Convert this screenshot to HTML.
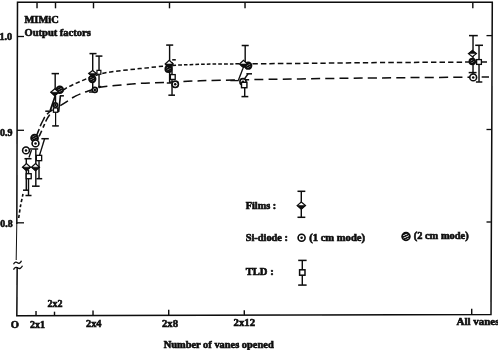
<!DOCTYPE html>
<html><head><meta charset="utf-8"><title>MIMiC Output factors</title>
<style>
html,body{margin:0;padding:0;background:#fff;}
body{width:498px;height:350px;overflow:hidden;}
svg{display:block;}
svg text{font-family:"Liberation Serif","DejaVu Serif",serif;font-weight:bold;fill:#0a0a0a;stroke:#0a0a0a;stroke-width:0.6px;}
</style></head><body>
<svg width="498" height="350" viewBox="0 0 498 350">
<defs>
<pattern id="hatch" width="2.1" height="2.1" patternUnits="userSpaceOnUse" patternTransform="rotate(-28)">
<rect width="2.1" height="2.1" fill="#fff"/><rect width="2.1" height="1.78" fill="#0a0a0a"/>
</pattern>
<pattern id="hatch2" width="2.3" height="2.3" patternUnits="userSpaceOnUse" patternTransform="rotate(-25) translate(0,0.4)">
<rect width="2.3" height="2.3" fill="#fff"/><rect width="2.3" height="1.45" fill="#0a0a0a"/>
</pattern>
<filter id="soft" x="-2%" y="-2%" width="104%" height="104%"><feGaussianBlur stdDeviation="0.35"/></filter>
</defs>
<rect width="498" height="350" fill="#fff"/>
<g filter="url(#soft)">
<path d="M16.8,224 L17.5,2.2 L492.3,2.2 L491,314.5 L16.8,315.7 L17.2,267" fill="none" stroke="#0a0a0a" stroke-width="1.5" stroke-linejoin="miter"/>
<path d="M16.8,223 L16.2,260" fill="none" stroke="#0a0a0a" stroke-width="1.0"/>
<path d="M13.5,264.3 C15,261.5 16.5,262 17.5,262.8 C18.8,263.8 20.3,263.3 21.5,260.8" fill="none" stroke="#0a0a0a" stroke-width="1.3"/>
<path d="M13.5,269.6 C15,266.8 16.8,267.2 18,268 C19.5,269 21,268.5 22.5,265.8" fill="none" stroke="#0a0a0a" stroke-width="1.3"/>
<line x1="17" y1="36.5" x2="24" y2="36.5" stroke="#0a0a0a" stroke-width="1.3" />
<line x1="17" y1="130.3" x2="24" y2="130.3" stroke="#0a0a0a" stroke-width="1.3" />
<line x1="17" y1="222.8" x2="24" y2="222.8" stroke="#0a0a0a" stroke-width="1.3" />
<line x1="486.5" y1="35.6" x2="492" y2="35.6" stroke="#0a0a0a" stroke-width="1.3" />
<line x1="486.5" y1="129.5" x2="492" y2="129.5" stroke="#0a0a0a" stroke-width="1.3" />
<line x1="486.5" y1="222.0" x2="492" y2="222.0" stroke="#0a0a0a" stroke-width="1.3" />
<line x1="36" y1="311.0" x2="36" y2="315.6" stroke="#0a0a0a" stroke-width="1.4" />
<line x1="54.5" y1="311.7" x2="54.5" y2="315.5" stroke="#0a0a0a" stroke-width="1.4" />
<line x1="93" y1="310.4" x2="93" y2="315.4" stroke="#0a0a0a" stroke-width="1.4" />
<line x1="168.7" y1="309.8" x2="168.7" y2="315.2" stroke="#0a0a0a" stroke-width="1.4" />
<line x1="244.3" y1="310.3" x2="244.3" y2="315.0" stroke="#0a0a0a" stroke-width="1.4" />
<line x1="471.7" y1="308.8" x2="471.7" y2="314.6" stroke="#0a0a0a" stroke-width="1.4" />
<line x1="37" y1="2" x2="37" y2="8.3" stroke="#0a0a0a" stroke-width="1.4" />
<line x1="55.5" y1="2" x2="55.5" y2="8.3" stroke="#0a0a0a" stroke-width="1.4" />
<line x1="93.5" y1="2" x2="93.5" y2="8.3" stroke="#0a0a0a" stroke-width="1.4" />
<line x1="169.5" y1="2" x2="169.5" y2="8.3" stroke="#0a0a0a" stroke-width="1.4" />
<line x1="245" y1="2" x2="245" y2="8.3" stroke="#0a0a0a" stroke-width="1.4" />
<line x1="472.8" y1="2" x2="472.8" y2="8.3" stroke="#0a0a0a" stroke-width="1.4" />
<text x="24.5" y="23" font-size="10.4" text-anchor="start" textLength="34.2" lengthAdjust="spacingAndGlyphs">MIMiC</text>
<text x="24.5" y="36.4" font-size="10.4" text-anchor="start" textLength="66.3" lengthAdjust="spacingAndGlyphs">Output factors</text>
<text x="-0.6" y="40.4" font-size="10.4" text-anchor="start" textLength="12.8" lengthAdjust="spacingAndGlyphs">1.0</text>
<text x="0" y="135.9" font-size="10.4" text-anchor="start" textLength="12.5" lengthAdjust="spacingAndGlyphs">0.9</text>
<text x="0.3" y="227" font-size="10.4" text-anchor="start" textLength="12.3" lengthAdjust="spacingAndGlyphs">0.8</text>
<text x="10.8" y="327.6" font-size="10.4" text-anchor="start" textLength="8.2" lengthAdjust="spacingAndGlyphs">O</text>
<text x="29.9" y="327.6" font-size="10.4" text-anchor="start" textLength="15" lengthAdjust="spacingAndGlyphs">2x1</text>
<text x="47.5" y="307" font-size="10.4" text-anchor="start" textLength="15" lengthAdjust="spacingAndGlyphs">2x2</text>
<text x="86" y="327" font-size="10.4" text-anchor="start" textLength="15.5" lengthAdjust="spacingAndGlyphs">2x4</text>
<text x="162" y="326.7" font-size="10.4" text-anchor="start" textLength="16" lengthAdjust="spacingAndGlyphs">2x8</text>
<text x="233.5" y="325.8" font-size="10.4" text-anchor="start" textLength="21.5" lengthAdjust="spacingAndGlyphs">2x12</text>
<text x="456.5" y="325" font-size="10.4" text-anchor="start" textLength="43" lengthAdjust="spacingAndGlyphs">All vanes</text>
<text x="163.7" y="347.6" font-size="10.4" text-anchor="start" textLength="110" lengthAdjust="spacingAndGlyphs">Number of vanes opened</text>
<text x="245.7" y="208.8" font-size="10.4" text-anchor="start" textLength="30.5" lengthAdjust="spacingAndGlyphs">Films :</text>
<text x="245.7" y="240.8" font-size="10.4" text-anchor="start" textLength="42.3" lengthAdjust="spacingAndGlyphs">Si-diode :</text>
<text x="309.2" y="240.8" font-size="10.4" text-anchor="start" textLength="55.8" lengthAdjust="spacingAndGlyphs">(1 cm mode)</text>
<text x="413.7" y="239.3" font-size="10.4" text-anchor="start" textLength="55" lengthAdjust="spacingAndGlyphs">(2 cm mode)</text>
<text x="245.7" y="275.3" font-size="10.4" text-anchor="start" textLength="28" lengthAdjust="spacingAndGlyphs">TLD :</text>
<path d="M18.7,218 C19.00,216.00 19.78,210.00 20.5,206 C21.22,202.00 22.58,196.00 23,194" fill="none" stroke="#0a0a0a" stroke-width="1.6" stroke-dasharray="3.2 2.2"/>
<path d="M35,141.5 C35.50,140.92 37.13,139.25 38,138 C38.87,136.75 39.43,135.57 40.2,134 C40.97,132.43 41.93,130.10 42.6,128.6 C43.27,127.10 43.57,126.43 44.2,125 C44.83,123.57 45.67,121.45 46.4,120 C47.13,118.55 47.90,117.43 48.6,116.3 C49.30,115.17 50.27,113.72 50.6,113.2" fill="none" stroke="#0a0a0a" stroke-width="1.6" stroke-dasharray="6.2 3.3 4.2 2.6 8 3" stroke-dashoffset="-6.5"/>
<path d="M60.5,91.8 C61.03,91.45 62.68,90.37 63.7,89.7 C64.72,89.03 65.63,88.37 66.6,87.8 C67.57,87.23 68.45,86.82 69.5,86.3 C70.55,85.78 71.85,85.18 72.9,84.7 C73.95,84.22 74.58,83.93 75.8,83.4 C77.02,82.87 78.40,82.28 80.2,81.5 C82.00,80.72 84.58,79.48 86.6,78.7 C88.62,77.92 90.07,77.55 92.3,76.8 C94.53,76.05 96.72,75.05 100,74.2 C103.28,73.35 105.33,72.63 112,71.7 C118.67,70.77 130.67,69.62 140,68.6 C149.33,67.58 163.33,66.10 168,65.6" fill="none" stroke="#0a0a0a" stroke-width="1.5" stroke-dasharray="4.4 2.7" stroke-dashoffset="-3.2"/>
<path d="M168,65.6 C173.33,65.38 187.50,64.60 200,64.3 C212.50,64.00 235.83,63.88 243,63.8" fill="none" stroke="#0a0a0a" stroke-width="1.5" stroke-dasharray="3.6 2.1" stroke-dashoffset="1"/>
<path d="M243,63.8 C252.50,63.73 277.17,63.60 300,63.4 C322.83,63.20 348.83,62.83 380,62.6 C411.17,62.37 469.17,62.10 487,62" fill="none" stroke="#0a0a0a" stroke-width="1.5" stroke-dasharray="5.4 3.1" stroke-dashoffset="-1"/>
<path d="M36.7,135.2 C37.18,134.00 38.90,129.77 39.6,128 C40.30,126.23 40.30,125.93 40.9,124.6 C41.50,123.27 42.48,121.37 43.2,120 C43.92,118.63 44.07,117.82 45.2,116.4 C46.33,114.98 48.28,112.90 50,111.5 C51.72,110.10 54.58,108.58 55.5,108" fill="none" stroke="#0a0a0a" stroke-width="1.5" stroke-dasharray="6.5 3 10.6 3.5 7 3"/>
<path d="M55.5,108 C56.30,107.62 58.22,106.88 60.3,105.7 C62.38,104.52 65.90,102.27 68,100.9 C70.10,99.53 70.72,98.72 72.9,97.5 C75.08,96.28 79.08,94.50 81.1,93.6 C83.12,92.70 83.38,92.67 85,92.1 C86.62,91.53 88.30,91.02 90.8,90.2 C93.30,89.38 95.97,87.98 100,87.2 C104.03,86.42 108.33,86.13 115,85.5 C121.67,84.87 131.17,83.93 140,83.4 C148.83,82.87 158.00,82.73 168,82.3 C178.00,81.87 187.50,81.22 200,80.8 C212.50,80.38 226.33,80.12 243,79.8 C259.67,79.48 277.17,79.22 300,78.9 C322.83,78.58 348.50,78.22 380,77.9 C411.50,77.58 470.83,77.15 489,77" fill="none" stroke="#0a0a0a" stroke-width="1.5" stroke-dasharray="9 5.2" stroke-dashoffset="-5.3"/>
<line x1="26.3" y1="158.7" x2="26.3" y2="190.2" stroke="#0a0a0a" stroke-width="1.4" />
<line x1="24.5" y1="158.7" x2="31.5" y2="158.7" stroke="#0a0a0a" stroke-width="1.5" />
<line x1="23.0" y1="190.2" x2="29.0" y2="190.2" stroke="#0a0a0a" stroke-width="1.5" />
<line x1="29" y1="157.5" x2="31.5" y2="150" stroke="#0a0a0a" stroke-width="1.3" />
<line x1="28.5" y1="170" x2="28.5" y2="195.5" stroke="#0a0a0a" stroke-width="1.4" />
<line x1="25.5" y1="195.5" x2="31.5" y2="195.5" stroke="#0a0a0a" stroke-width="1.5" />
<polygon points="22.5,167.2 26.5,163.6 30.5,167.2 26.5,170.79999999999998" fill="#fff" stroke="#0a0a0a" stroke-width="1.2"/>
<polygon points="22.5,167.2 30.5,167.2 26.5,170.79999999999998" fill="#0a0a0a" stroke="#0a0a0a" stroke-width="0.6"/>
<rect x="26.2" y="173.7" width="5.0" height="5.0" fill="#fff" stroke="#0a0a0a" stroke-width="1.3"/>
<circle cx="26" cy="150.4" r="3.4" fill="#fff" stroke="#0a0a0a" stroke-width="1.6"/>
<circle cx="26" cy="150.4" r="1.25" fill="#0a0a0a"/>
<line x1="35.8" y1="149" x2="35.8" y2="186.2" stroke="#0a0a0a" stroke-width="1.4" />
<line x1="29.8" y1="149" x2="38.2" y2="149" stroke="#0a0a0a" stroke-width="1.5" />
<line x1="31.999999999999996" y1="186.2" x2="39.599999999999994" y2="186.2" stroke="#0a0a0a" stroke-width="1.5" />
<line x1="39.3" y1="156" x2="44.6" y2="138.7" stroke="#0a0a0a" stroke-width="1.3" />
<line x1="41.4" y1="138.7" x2="48.800000000000004" y2="138.7" stroke="#0a0a0a" stroke-width="1.5" />
<line x1="39" y1="160" x2="39" y2="178.7" stroke="#0a0a0a" stroke-width="1.4" />
<line x1="36.4" y1="178.7" x2="42.199999999999996" y2="178.7" stroke="#0a0a0a" stroke-width="1.5" />
<polygon points="31.5,167.2 35.5,163.6 39.5,167.2 35.5,170.79999999999998" fill="#fff" stroke="#0a0a0a" stroke-width="1.2"/>
<polygon points="31.5,167.2 39.5,167.2 35.5,170.79999999999998" fill="#0a0a0a" stroke="#0a0a0a" stroke-width="0.6"/>
<rect x="36.35" y="155.35" width="5.3" height="5.3" fill="#fff" stroke="#0a0a0a" stroke-width="1.3"/>
<circle cx="34.6" cy="138" r="3.5" fill="url(#hatch)" stroke="#0a0a0a" stroke-width="1.7"/>
<circle cx="35.5" cy="143.4" r="3.4" fill="#fff" stroke="#0a0a0a" stroke-width="1.6"/>
<circle cx="35.5" cy="143.4" r="1.25" fill="#0a0a0a"/>
<line x1="55.2" y1="73.6" x2="55.2" y2="92" stroke="#0a0a0a" stroke-width="1.4" />
<line x1="51.599999999999994" y1="73.6" x2="59.0" y2="73.6" stroke="#0a0a0a" stroke-width="1.5" />
<line x1="55.6" y1="96" x2="55.6" y2="125.9" stroke="#0a0a0a" stroke-width="1.2" />
<line x1="52.2" y1="125.9" x2="58.8" y2="125.9" stroke="#0a0a0a" stroke-width="1.5" />
<line x1="55.2" y1="96" x2="50.2" y2="110.6" stroke="#0a0a0a" stroke-width="1.7" />
<line x1="45.3" y1="111.2" x2="50.7" y2="111.2" stroke="#0a0a0a" stroke-width="1.5" />
<line x1="58.6" y1="112" x2="60.4" y2="96" stroke="#0a0a0a" stroke-width="1.6" />
<line x1="59.699999999999996" y1="95.8" x2="63.9" y2="95.8" stroke="#0a0a0a" stroke-width="1.5" />
<circle cx="59.8" cy="89.8" r="3.4" fill="url(#hatch)" stroke="#0a0a0a" stroke-width="1.7"/>
<polygon points="50.8,92.3 54.8,88.7 58.8,92.3 54.8,95.89999999999999" fill="#fff" stroke="#0a0a0a" stroke-width="1.2"/>
<polygon points="50.8,92.3 58.8,92.3 54.8,95.89999999999999" fill="#0a0a0a" stroke="#0a0a0a" stroke-width="0.6"/>
<circle cx="55.3" cy="105.1" r="2.2" fill="#fff" stroke="#0a0a0a" stroke-width="1.6"/>
<circle cx="55.3" cy="105.1" r="1.25" fill="#0a0a0a"/>
<rect x="53.45" y="107.94999999999999" width="4.3" height="4.3" fill="#fff" stroke="#0a0a0a" stroke-width="1.3"/>
<line x1="92.7" y1="53.6" x2="92.7" y2="92" stroke="#0a0a0a" stroke-width="1.4" />
<line x1="89.5" y1="53.6" x2="96.5" y2="53.6" stroke="#0a0a0a" stroke-width="1.5" />
<line x1="89.1" y1="92" x2="92.9" y2="92" stroke="#0a0a0a" stroke-width="1.5" />
<line x1="99" y1="56.1" x2="99" y2="86.2" stroke="#0a0a0a" stroke-width="1.4" />
<line x1="95.6" y1="56.1" x2="102.4" y2="56.1" stroke="#0a0a0a" stroke-width="1.5" />
<line x1="98.10000000000001" y1="86.6" x2="101.3" y2="86.6" stroke="#0a0a0a" stroke-width="1.5" />
<circle cx="92.3" cy="79" r="3.3" fill="url(#hatch)" stroke="#0a0a0a" stroke-width="1.7"/>
<polygon points="88.69999999999999,73.4 92.6,70.4 96.5,73.4 92.6,76.4" fill="#fff" stroke="#0a0a0a" stroke-width="1.2"/>
<polygon points="88.69999999999999,73.4 96.5,73.4 92.6,76.4" fill="#0a0a0a" stroke="#0a0a0a" stroke-width="0.6"/>
<rect x="96.95" y="70.35" width="3.9" height="3.9" fill="#fff" stroke="#0a0a0a" stroke-width="1.2"/>
<circle cx="94.8" cy="89.9" r="2.5" fill="#fff" stroke="#0a0a0a" stroke-width="1.6"/>
<circle cx="94.8" cy="89.9" r="1.25" fill="#0a0a0a"/>
<line x1="169.6" y1="45.1" x2="169.6" y2="83" stroke="#0a0a0a" stroke-width="1.4" />
<line x1="166.2" y1="45.1" x2="173.2" y2="45.1" stroke="#0a0a0a" stroke-width="1.5" />
<line x1="166.8" y1="83" x2="171.2" y2="83" stroke="#0a0a0a" stroke-width="1.5" />
<line x1="172" y1="62" x2="172" y2="95.2" stroke="#0a0a0a" stroke-width="1.4" />
<line x1="168.39999999999998" y1="95.2" x2="175.0" y2="95.2" stroke="#0a0a0a" stroke-width="1.5" />
<line x1="172.2" y1="59.8" x2="175.8" y2="59.8" stroke="#0a0a0a" stroke-width="1.5" />
<circle cx="168.5" cy="69" r="3.2" fill="url(#hatch)" stroke="#0a0a0a" stroke-width="1.7"/>
<polygon points="165.2,64 169.2,60.4 173.2,64 169.2,67.6" fill="#fff" stroke="#0a0a0a" stroke-width="1.2"/>
<polygon points="165.2,64 173.2,64 169.2,67.6" fill="#0a0a0a" stroke="#0a0a0a" stroke-width="0.6"/>
<rect x="170.4" y="74.6" width="4.8" height="4.8" fill="#fff" stroke="#0a0a0a" stroke-width="1.3"/>
<circle cx="175.2" cy="84.3" r="3.2" fill="#fff" stroke="#0a0a0a" stroke-width="1.6"/>
<circle cx="175.2" cy="84.3" r="1.25" fill="#0a0a0a"/>
<line x1="245.2" y1="45.5" x2="245.2" y2="63" stroke="#0a0a0a" stroke-width="1.4" />
<line x1="241.7" y1="45.5" x2="248.7" y2="45.5" stroke="#0a0a0a" stroke-width="1.5" />
<line x1="243" y1="68.3" x2="238.4" y2="80.3" stroke="#0a0a0a" stroke-width="1.3" />
<line x1="230.3" y1="80.6" x2="238.7" y2="80.6" stroke="#0a0a0a" stroke-width="1.3" />
<line x1="248" y1="74" x2="244" y2="79.5" stroke="#0a0a0a" stroke-width="1.3" />
<line x1="246.39999999999998" y1="73.8" x2="252.0" y2="73.8" stroke="#0a0a0a" stroke-width="1.5" />
<line x1="244.7" y1="84" x2="244.7" y2="96.6" stroke="#0a0a0a" stroke-width="1.4" />
<line x1="241.5" y1="96.6" x2="248.3" y2="96.6" stroke="#0a0a0a" stroke-width="1.5" />
<circle cx="248.2" cy="65.7" r="3.3" fill="url(#hatch)" stroke="#0a0a0a" stroke-width="1.7"/>
<polygon points="239.5,64 243.5,60.4 247.5,64 243.5,67.6" fill="#fff" stroke="#0a0a0a" stroke-width="1.2"/>
<polygon points="239.5,64 247.5,64 243.5,67.6" fill="#0a0a0a" stroke="#0a0a0a" stroke-width="0.6"/>
<circle cx="243" cy="81.7" r="3.1" fill="#fff" stroke="#0a0a0a" stroke-width="1.6"/>
<circle cx="243" cy="81.7" r="1.25" fill="#0a0a0a"/>
<rect x="241.5" y="82.3" width="5.4" height="5.4" fill="#fff" stroke="#0a0a0a" stroke-width="1.4"/>
<line x1="473" y1="35.6" x2="473" y2="74" stroke="#0a0a0a" stroke-width="1.4" />
<line x1="469.0" y1="35.6" x2="477.79999999999995" y2="35.6" stroke="#0a0a0a" stroke-width="1.5" />
<line x1="468.70000000000005" y1="72.6" x2="476.5" y2="72.6" stroke="#0a0a0a" stroke-width="1.5" />
<line x1="479" y1="45.3" x2="479" y2="82" stroke="#0a0a0a" stroke-width="1.4" />
<line x1="475.20000000000005" y1="45.3" x2="483.0" y2="45.3" stroke="#0a0a0a" stroke-width="1.5" />
<line x1="475.90000000000003" y1="82" x2="482.3" y2="82" stroke="#0a0a0a" stroke-width="1.5" />
<circle cx="472.3" cy="61.6" r="2.9" fill="url(#hatch)" stroke="#0a0a0a" stroke-width="1.7"/>
<polygon points="468.4,53.6 472.4,50.5 476.4,53.6 472.4,56.7" fill="#fff" stroke="#0a0a0a" stroke-width="1.2"/>
<polygon points="468.4,53.6 476.4,53.6 472.4,50.5" fill="#0a0a0a" stroke="#0a0a0a" stroke-width="0.6"/>
<rect x="476.6" y="59.6" width="4.8" height="4.8" fill="#fff" stroke="#0a0a0a" stroke-width="1.3"/>
<circle cx="473.2" cy="77.4" r="3.4" fill="#fff" stroke="#0a0a0a" stroke-width="1.6"/>
<circle cx="473.2" cy="77.4" r="1.25" fill="#0a0a0a"/>
<line x1="301.3" y1="191.3" x2="301.3" y2="217.3" stroke="#0a0a0a" stroke-width="1.4" />
<line x1="297.5" y1="191.3" x2="305.29999999999995" y2="191.3" stroke="#0a0a0a" stroke-width="1.5" />
<line x1="297.5" y1="217.3" x2="305.29999999999995" y2="217.3" stroke="#0a0a0a" stroke-width="1.5" />
<polygon points="297.1,205.6 301.3,202.0 305.5,205.6 301.3,209.2" fill="#fff" stroke="#0a0a0a" stroke-width="1.2"/>
<polygon points="297.1,205.6 305.5,205.6 301.3,209.2" fill="#0a0a0a" stroke="#0a0a0a" stroke-width="0.6"/>
<circle cx="301.6" cy="237.8" r="3.5" fill="#fff" stroke="#0a0a0a" stroke-width="1.6"/>
<circle cx="301.6" cy="237.8" r="1.25" fill="#0a0a0a"/>
<circle cx="406" cy="236.5" r="3.9" fill="url(#hatch2)" stroke="#0a0a0a" stroke-width="1.7"/>
<line x1="302.3" y1="260.4" x2="302.3" y2="285.1" stroke="#0a0a0a" stroke-width="1.4" />
<line x1="298.2" y1="260.4" x2="306.59999999999997" y2="260.4" stroke="#0a0a0a" stroke-width="1.5" />
<line x1="298.2" y1="285.1" x2="306.59999999999997" y2="285.1" stroke="#0a0a0a" stroke-width="1.5" />
<rect x="299.6" y="269.8" width="5.4" height="5.4" fill="#fff" stroke="#0a0a0a" stroke-width="1.5"/>
</g>
</svg>
</body></html>
